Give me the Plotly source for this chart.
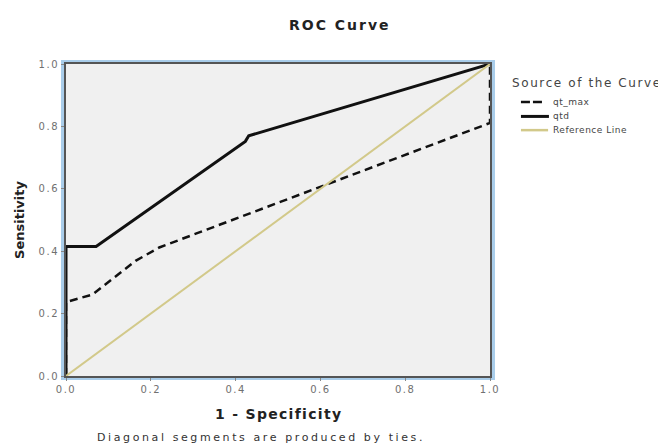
import plotly.graph_objects as go

# Data
qt_max_x = [0.0, 0.0, 0.062, 0.164, 0.22, 1.0, 1.0]
qt_max_y = [0.0, 0.237, 0.261, 0.369, 0.412, 0.811, 1.0]
qtd_x = [0.0, 0.0, 0.071, 0.423, 0.431, 1.0]
qtd_y = [0.0, 0.415, 0.415, 0.752, 0.770, 1.0]
ref_x = [0.0, 1.0]
ref_y = [0.0, 1.0]
tick_vals = [0.0, 0.2, 0.4, 0.6, 0.8, 1.0]
tick_text = ["0.0", "0.2", "0.4", "0.6", "0.8", "1.0"]
legend_names = ["qt_max", "qtd", "Reference Line"]

font = "DejaVu Sans, Liberation Sans, sans-serif"
DARK = "#111111"
REF = "#d2c98a"


def spaced(t, ls):
    return f'<span style="letter-spacing:{ls}px">{t}</span>'


fig = go.Figure()
fig.add_trace(go.Scatter(x=qt_max_x, y=qt_max_y, mode="lines", name=legend_names[0],
                         line=dict(color=DARK, width=2.5, dash="8px,5px")))
fig.add_trace(go.Scatter(x=qtd_x, y=qtd_y, mode="lines", name=legend_names[1],
                         line=dict(color=DARK, width=3)))
fig.add_trace(go.Scatter(x=ref_x, y=ref_y, mode="lines", name=legend_names[2],
                         line=dict(color=REF, width=2)))

axis_common = dict(range=[0, 1], tickvals=tick_vals,
                   ticktext=[spaced(t, 1.5) for t in tick_text],
                   showgrid=False, zeroline=False, showline=True, mirror=True,
                   linecolor="#555555", linewidth=2, ticks="outside",
                   ticklen=3, tickcolor="#888888",
                   tickfont=dict(family=font, size=10, color="#707070"))

fig.update_layout(
    width=658, height=436,
    margin=dict(l=58, r=176, t=56, b=68),
    paper_bgcolor="white", plot_bgcolor="#f0f0f0",
    xaxis=dict(**axis_common),
    yaxis=dict(**axis_common),
    showlegend=False,
)

ann = dict(xref="paper", yref="paper", showarrow=False)
fig.add_annotation(text="<b>" + spaced("ROC Curve", 2) + "</b>", x=0.646, y=1.125,
                   xanchor="center", yanchor="middle",
                   font=dict(family=font, size=14, color="#222222"), **ann)
fig.add_annotation(text="<b>" + spaced("1 - Specificity", 1.3) + "</b>", x=0.5, y=-0.122,
                   xanchor="center", yanchor="middle",
                   font=dict(family=font, size=14, color="#222222"), **ann)
fig.add_annotation(text="<b>Sensitivity</b>", x=-0.111, y=0.5,
                   xanchor="center", yanchor="middle", textangle=-90,
                   font=dict(family=font, size=13, color="#222222"), **ann)
fig.add_annotation(text=spaced("Diagonal segments are produced by ties.", 2.6),
                   x=0.461, y=-0.197, xanchor="center", yanchor="middle",
                   font=dict(family=font, size=11, color="#333333"), **ann)

# Legend (drawn manually for SPSS-like tight spacing)
fig.add_annotation(text=spaced("Source of the Curve", 1.6), x=1.047, y=0.939,
                   xanchor="left", yanchor="middle",
                   font=dict(family=font, size=12, color="#444444"), **ann)
leg_y = [0.878, 0.832, 0.788]
leg_x1 = [1.123, 1.139, 1.137]
leg_styles = [dict(color=DARK, width=2.5, dash="9px,3px"),
              dict(color=DARK, width=3),
              dict(color=REF, width=2.5)]
for name, yy, x1, st in zip(legend_names, leg_y, leg_x1, leg_styles):
    fig.add_shape(type="line", xref="paper", yref="paper", x0=1.073, x1=x1,
                  y0=yy, y1=yy, line=st)
    fig.add_annotation(text=spaced(name, 0.5), x=1.144, y=yy, xanchor="left",
                       yanchor="middle", font=dict(family=font, size=9, color="#444444"), **ann)

# Light blue frame around the plot area
fig.add_shape(type="rect", xref="paper", yref="paper", x0=-0.0083, x1=1.0083,
              y0=-0.008, y1=1.008, line=dict(color="#a9cdea", width=3), layer="below")

fig.write_html("out.html")
